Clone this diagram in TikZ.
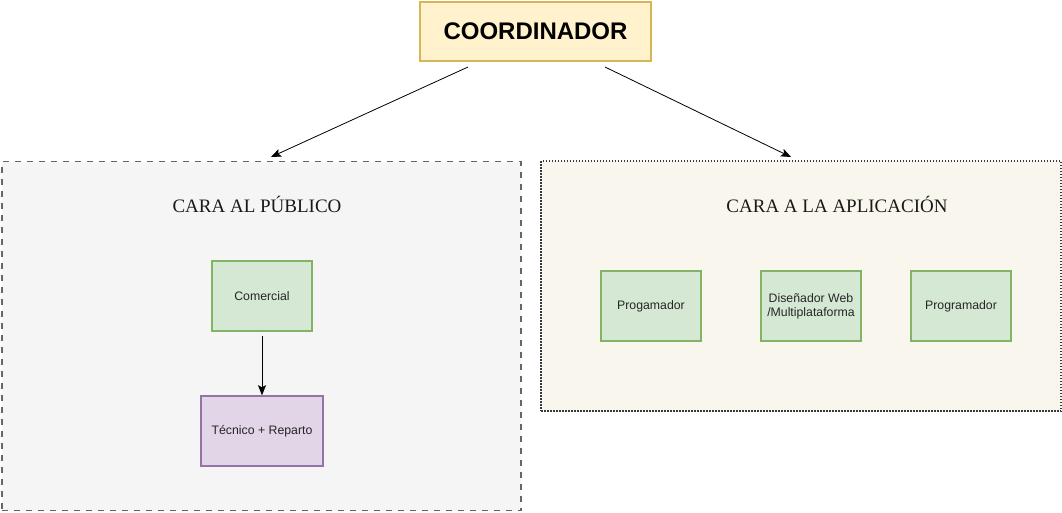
\documentclass[tikz,border=0pt]{standalone}
\usepackage{fontspec}
\setmainfont{Liberation Serif}
\newfontfamily\boxfont{Liberation Sans}
\usepackage{xcolor}
\usetikzlibrary{arrows.meta,positioning}

\definecolor{coordfill}{HTML}{FFF2CC}
\definecolor{coordline}{HTML}{D6B656}
\definecolor{greenfill}{HTML}{D5E8D4}
\definecolor{greenline}{HTML}{82B366}
\definecolor{lilacfill}{HTML}{E1D5E7}
\definecolor{lilacline}{HTML}{9673A6}
\definecolor{pubfill}{HTML}{F5F5F5}
\definecolor{publine}{HTML}{666666}
\definecolor{appfill}{HTML}{F9F7ED}
\definecolor{appline}{HTML}{36393D}

\begin{document}
\begin{tikzpicture}[x=1pt, y=-1pt, >={Stealth[length=10pt, width=8pt, inset=2pt]},
  role/.style={draw=greenline, fill=greenfill, line width=1.5pt, minimum width=100pt, minimum height=70pt,
    inner sep=2pt, align=center, font=\boxfont\fontsize{12.3}{14}\selectfont, text=black!85},
  area/.style={line width=1.5pt, inner sep=0pt},
  areatitle/.style={font=\fontsize{19}{22}\selectfont, text=black!90},
  link/.style={->, line width=0.8pt}]
\useasboundingbox (0,0) rectangle (1062,512);
% --- Top: coordinator ---
\node[draw=coordline, fill=coordfill, line width=1.5pt, minimum width=231pt, minimum height=59pt,
  font=\boxfont\bfseries\fontsize{24}{27}\selectfont] (coord) at (535.5,31.5) {COORDINADOR};
% --- Left: public side ---
\node[area, draw=publine, fill=pubfill, dash pattern=on 6pt off 6pt, minimum width=519pt, minimum height=349pt]
  (publico) at (261.5,336) {};
\node[areatitle] (publicotitle) at (257,204.5) {CARA AL PÚBLICO};
\node[role] (comercial) at (262,296) {Comercial};
\node[role, draw=lilacline, fill=lilacfill, minimum width=122pt] (tecnico) at (262,431) {Técnico + Reparto};
\draw[link] ([yshift=-4pt]comercial.south) -- (tecnico.north);
% --- Right: application side ---
\node[area, draw=appline, fill=appfill, dash pattern=on 1.5pt off 1.5pt, minimum width=520pt, minimum height=250pt]
  (aplicacion) at (801,286) {};
\node[areatitle] (aplicaciontitle) at (837,204.5) {CARA A LA APLICACIÓN};
\node[role] (progamador) at (651,306) {Progamador};
\node[role] (disenador) at (811,306) {Diseñador Web\\/Multiplataforma};
\node[role] (programador) at (961,306) {Programador};
% --- Links from coordinator ---
\coordinate (c1) at (468,67);
\coordinate (c2) at (605,67);
\coordinate (p1) at (271,157);
\coordinate (p2) at (791,157);
\draw[link] (c1) -- (p1);
\draw[link] (c2) -- (p2);
\end{tikzpicture}
\end{document}
